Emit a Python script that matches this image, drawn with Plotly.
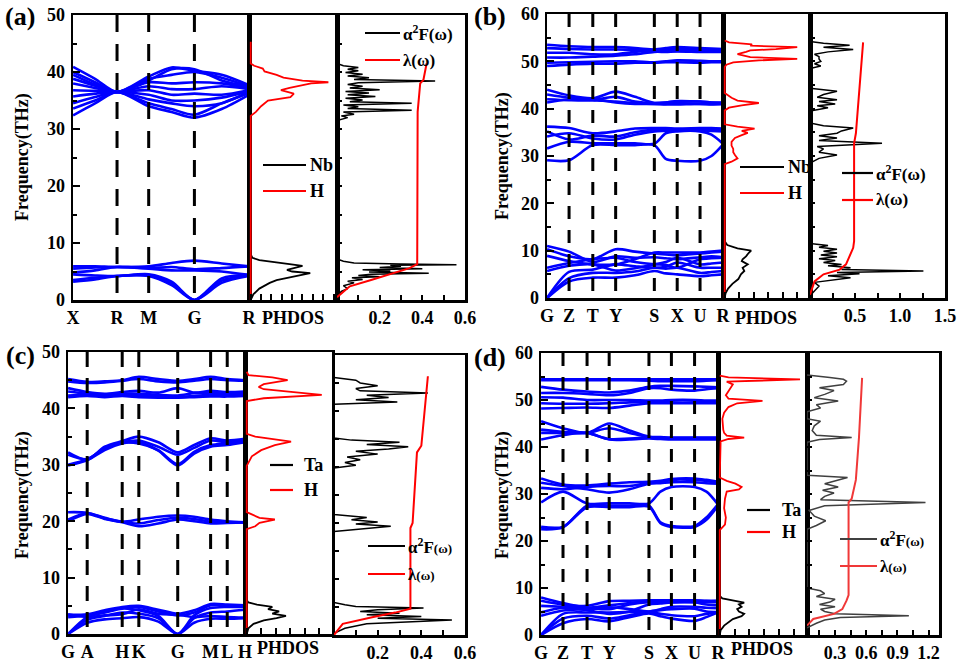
import plotly.graph_objects as go

# ---------------------------------------------------------------- data
# (a) NbH-type, path X-R-M-G-R
a_klab = ["X", "R", "M", "G", "R"]
a_kpos = [0.0, 0.25, 0.43, 0.69, 1.0]
a_kpath = [0.0, 0.125, 0.25, 0.43, 0.56, 0.69, 0.845, 1.0]
a_bands = [
    [3.2, 3.6, 4.2, 4.2, 2.6, 0.0, 3.0, 4.2],
    [3.5, 3.9, 4.2, 4.3, 2.9, 0.0, 3.4, 4.3],
    [4.5, 4.3, 4.2, 4.5, 3.2, 0.0, 3.8, 4.4],
    [4.8, 5.2, 5.8, 5.5, 5.2, 5.2, 5.0, 4.4],
    [5.5, 5.7, 5.8, 5.6, 5.8, 5.4, 5.6, 5.9],
    [5.9, 5.9, 5.8, 5.9, 6.5, 6.9, 6.4, 5.9],
    [32.4, 34.5, 36.5, 34.0, 33.0, 32.0, 33.5, 36.0],
    [33.6, 35.0, 36.5, 34.5, 33.5, 32.5, 34.5, 36.3],
    [34.5, 35.6, 36.5, 35.2, 34.5, 34.0, 34.5, 36.5],
    [35.7, 36.2, 36.5, 36.0, 35.0, 35.0, 35.5, 36.6],
    [36.8, 36.7, 36.5, 36.8, 36.0, 36.2, 36.0, 36.8],
    [38.0, 37.2, 36.5, 37.5, 37.0, 37.0, 37.5, 37.0],
    [38.8, 37.6, 36.5, 38.2, 38.0, 38.2, 38.0, 37.2],
    [40.0, 38.2, 36.5, 38.8, 39.5, 40.0, 39.0, 37.5],
    [40.9, 38.8, 36.5, 39.2, 40.8, 40.2, 39.5, 37.7],
    [39.5, 37.8, 36.5, 38.5, 40.5, 40.5, 38.5, 37.4],
]
a_dos_freq_m = [0, 1, 2, 3, 3.5, 4.0, 4.3, 4.7, 5.0, 5.3, 5.6, 6.0, 6.3, 6.6, 7.0, 7.4, 8.0, 45.3]
a_dos_m = [0, 0.03, 0.1, 0.22, 0.3, 0.45, 0.58, 0.69, 0.48, 0.42, 0.5, 0.6, 0.45, 0.28, 0.1, 0.02, 0, 0]
a_dos_freq_h = [0, 32.3, 33.0, 34.0, 35.0, 35.6, 36.2, 36.8, 37.2, 37.6, 38.0, 38.2, 38.5, 39.0,
                39.5, 40.1, 40.6, 41.1, 41.5, 45.3]
a_dos_h = [0, 0, 0.06, 0.12, 0.2, 0.46, 0.5, 0.35, 0.45, 0.58, 0.7, 0.9, 0.6, 0.38,
           0.3, 0.16, 0.14, 0.04, 0, 0]
a_a2f_freq = [0.5, 1.5, 2.0, 2.5, 3.0, 3.3, 3.6, 3.9, 4.1, 4.3, 4.5, 4.7, 4.9, 5.1, 5.3, 5.5, 5.7, 5.9,
              6.1, 6.2, 6.3, 6.5, 6.8, 7.2,
              31.5, 32.0, 32.3, 32.6, 33.0, 33.3, 33.6, 33.9, 34.2, 34.5, 34.8, 35.1, 35.4, 35.7, 36.0,
              36.3, 36.6, 36.9, 37.2, 37.5, 37.8, 38.1, 38.4, 38.7, 39.0, 39.3, 39.6, 39.9, 40.2, 40.5,
              40.8, 41.1, 41.5]
a_a2f = [0, 0.02, 0.05, 0.03, 0.08, 0.05, 0.12, 0.07, 0.2, 0.1, 0.16, 0.43, 0.15, 0.25, 0.12, 0.4, 0.2, 0.3,
         0.25, 0.56, 0.3, 0.08, 0.03, 0,
         0, 0.05, 0.02, 0.08, 0.03, 0.35, 0.05, 0.1, 0.03, 0.35, 0.06, 0.12, 0.04, 0.18, 0.05,
         0.15, 0.04, 0.2, 0.06, 0.12, 0.05, 0.1, 0.46, 0.08, 0.15, 0.05, 0.12, 0.04, 0.1, 0.05,
         0.1, 0.03, 0]
a_lam_freq = [0.5, 1.5, 2.4, 3.5, 4.2, 4.7, 5.2, 5.6, 6.0, 6.3, 33.0, 35.3, 38.0, 38.6, 41.0, 41.5]
a_lam = [0, 0.03, 0.06, 0.16, 0.22, 0.27, 0.31, 0.34, 0.36, 0.376, 0.378, 0.385, 0.39, 0.405, 0.415, 0.42]

# (b) path G-Z-T-Y-S-X-U-R
b_klab = ["G", "Z", "T", "Y", "S", "X", "U", "R"]
b_kpos = [0.0, 0.125, 0.26, 0.39, 0.61, 0.74, 0.87, 1.0]
b_kpath = [0.0, 0.125, 0.26, 0.39, 0.5, 0.61, 0.675, 0.74, 0.87, 0.935, 1.0]
b_bands = [
    [0, 3.5, 4.3, 4.3, 4.8, 5.7, 5.2, 5.0, 4.6, 4.8, 5.0],
    [0, 4.2, 5.3, 5.3, 5.6, 6.4, 6.2, 6.4, 5.3, 5.5, 5.7],
    [0, 5.5, 6.0, 7.1, 6.7, 6.4, 6.6, 7.5, 6.4, 6.4, 6.4],
    [5.7, 6.8, 7.1, 5.8, 6.3, 7.1, 7.6, 8.5, 7.1, 7.3, 7.5],
    [6.4, 7.4, 8.2, 8.5, 7.6, 7.1, 7.0, 6.4, 8.2, 8.4, 8.5],
    [8.9, 7.8, 7.1, 7.1, 8.2, 9.6, 9.6, 9.6, 9.6, 9.8, 10.0],
    [10.3, 8.8, 8.2, 10.3, 9.8, 9.4, 9.2, 9.0, 9.4, 9.6, 9.8],
    [11.0, 9.8, 7.6, 8.8, 8.5, 8.6, 8.4, 8.2, 8.6, 8.8, 8.6],
    [29.1, 29.1, 32.3, 32.3, 32.3, 32.3, 29.4, 29.0, 29.0, 30.0, 32.4],
    [31.6, 33.0, 32.7, 32.7, 32.7, 32.6, 34.8, 35.2, 35.2, 34.5, 32.6],
    [34.1, 34.8, 33.7, 33.5, 34.5, 35.2, 35.3, 35.4, 35.4, 35.3, 35.2],
    [35.2, 33.5, 34.3, 34.1, 35.0, 35.6, 35.6, 35.6, 35.7, 35.6, 35.5],
    [36.2, 35.9, 34.8, 35.2, 35.8, 35.9, 35.9, 35.8, 35.9, 35.9, 35.8],
    [44.0, 42.8, 42.2, 43.6, 42.5, 41.2, 41.3, 41.5, 41.5, 41.3, 41.3],
    [43.0, 42.3, 41.8, 41.5, 41.2, 41.0, 41.0, 41.2, 41.0, 41.0, 41.0],
    [42.0, 41.8, 41.8, 42.5, 41.5, 41.2, 41.3, 41.6, 41.5, 41.3, 41.2],
    [41.3, 42.0, 42.0, 41.3, 41.0, 41.0, 40.9, 40.9, 41.0, 40.9, 41.0],
    [53.5, 53.2, 53.0, 53.0, 52.8, 52.5, 52.5, 52.6, 52.5, 52.4, 52.5],
    [52.8, 52.6, 52.5, 52.5, 52.4, 52.2, 52.3, 52.2, 52.3, 52.2, 52.3],
    [51.8, 51.8, 51.5, 51.5, 52.0, 52.5, 52.8, 53.0, 52.8, 52.7, 52.6],
    [50.8, 50.8, 51.0, 51.2, 51.5, 52.0, 52.0, 52.1, 52.0, 52.0, 52.0],
    [49.7, 49.8, 49.9, 50.0, 50.0, 49.8, 50.0, 50.2, 50.1, 50.0, 50.0],
    [49.0, 49.3, 49.5, 49.5, 49.7, 49.7, 49.8, 49.8, 49.7, 49.8, 49.8],
]
b_dos_freq_m = [0, 1, 2, 3, 4, 5, 5.7, 6.4, 7.1, 7.8, 8.2, 8.8, 9.5, 10.0, 10.5, 11.2, 12, 54]
b_dos_m = [0, 0.01, 0.04, 0.09, 0.16, 0.19, 0.23, 0.21, 0.27, 0.2, 0.21, 0.25, 0.28, 0.31, 0.15, 0.03, 0, 0]
b_dos_freq_h = [0, 28.3, 28.8, 29.5, 30.2, 30.8, 31.5, 32.2, 33.0, 33.8, 34.4, 34.9, 35.3, 35.8, 36.2, 36.7,
                39.6, 40.2, 40.7, 41.2, 41.7, 42.3, 43.3, 48.8, 49.3, 49.8, 50.2, 50.5, 50.9, 51.5, 52.0,
                52.3, 52.6, 53.0, 53.3, 53.6, 54.0, 54.4]
b_dos_h = [0, 0, 0.08, 0.15, 0.12, 0.1, 0.1, 0.08, 0.08, 0.12, 0.2, 0.27, 0.2, 0.35, 0.15, 0,
           0, 0.05, 0.2, 0.4, 0.15, 0.08, 0, 0, 0.02, 0.1, 0.4, 0.85, 0.3, 0.15, 0.25,
           0.3, 0.6, 0.85, 0.3, 0.32, 0.05, 0]
b_a2f_freq = [0.5, 1.5, 2.5, 3.3, 3.8, 4.3, 4.7, 5.1, 5.4, 5.7, 6.0, 6.4, 6.8, 7.1, 7.5, 7.9, 8.3, 8.7,
              9.1, 9.5, 9.9, 10.3, 10.7, 11.1, 11.5,
              28.5, 29.5, 30.2, 30.8, 31.5, 32.0, 32.7, 33.3, 33.8, 34.3, 34.8, 35.3, 35.9, 36.4, 37.0,
              39.5, 40.2, 40.6, 41.0, 41.5, 41.9, 42.4, 43.0, 43.7, 44.3,
              48.5, 49.0, 49.5, 50.0, 50.5, 51.0, 51.5, 52.0, 52.5, 53.0, 53.4, 53.8, 54.2]
b_a2f = [0, 0.05, 0.1, 0.05, 0.25, 0.45, 0.2, 0.55, 0.3, 1.26, 0.35, 0.45, 0.2, 0.35, 0.15, 0.28, 0.1, 0.3,
         0.12, 0.3, 0.15, 0.3, 0.1, 0.2, 0,
         0, 0.1, 0.3, 0.1, 0.15, 0.08, 0.8, 0.1, 0.3, 0.1, 0.3, 0.35, 0.48, 0.15, 0,
         0, 0.2, 0.08, 0.28, 0.1, 0.3, 0.08, 0.15, 0.3, 0,
         0, 0.12, 0.05, 0.12, 0.1, 0.1, 0.05, 0.2, 0.48, 0.15, 0.44, 0.15, 0]
b_lam_freq = [0.7, 3.5, 5.0, 6.0, 7.1, 8.5, 9.2, 10.6, 12.0, 32.7, 34.8, 41.9, 54.0]
b_lam = [0, 0.05, 0.15, 0.33, 0.4, 0.43, 0.45, 0.48, 0.49, 0.49, 0.51, 0.54, 0.59]

# (c) path G-A-H-K-G-M-L-H
c_klab = ["G", "A", "H", "K", "G", "M", "L", "H"]
c_kpos = [0.0, 0.108, 0.306, 0.40, 0.62, 0.806, 0.90, 1.0]
c_kpath = [0.0, 0.108, 0.207, 0.306, 0.40, 0.51, 0.62, 0.713, 0.806, 0.90, 1.0]
c_bands = [
    [0, 2.0, 2.6, 2.8, 3.0, 2.2, 0, 2.0, 2.7, 2.7, 2.8],
    [0, 2.5, 3.2, 3.8, 3.6, 2.8, 0, 2.8, 3.8, 4.0, 4.3],
    [0, 3.0, 3.8, 4.5, 4.2, 3.2, 0, 3.3, 4.6, 4.8, 4.8],
    [3.0, 3.3, 3.9, 4.6, 4.8, 4.0, 3.3, 3.8, 5.1, 5.1, 5.0],
    [3.4, 3.5, 4.2, 4.8, 5.0, 4.3, 3.6, 4.2, 5.3, 5.2, 5.1],
    [3.5, 3.0, 3.3, 3.5, 4.4, 3.6, 3.4, 3.0, 3.2, 3.0, 2.9],
    [21.6, 21.5, 20.6, 19.9, 20.3, 20.8, 21.0, 20.8, 20.3, 20.0, 19.8],
    [20.0, 21.3, 20.4, 19.8, 19.1, 19.6, 20.3, 20.0, 19.6, 19.7, 19.8],
    [20.3, 21.4, 20.5, 19.9, 19.6, 20.2, 20.6, 20.4, 19.9, 19.8, 19.8],
    [32.2, 30.9, 33.2, 34.2, 35.0, 34.0, 32.2, 33.5, 34.7, 34.3, 34.6],
    [31.8, 31.0, 33.0, 34.0, 34.3, 33.2, 31.8, 33.0, 34.3, 34.0, 34.3],
    [29.9, 30.8, 32.6, 33.8, 34.0, 32.5, 29.9, 32.0, 33.2, 33.5, 34.0],
    [30.0, 31.0, 32.8, 33.9, 33.8, 32.6, 30.1, 32.3, 33.5, 33.8, 34.1],
    [45.2, 44.7, 44.8, 45.0, 45.6, 45.2, 44.9, 45.2, 45.6, 45.2, 45.0],
    [44.8, 44.5, 44.6, 44.9, 45.2, 44.8, 44.6, 44.9, 45.2, 45.0, 44.9],
    [43.6, 42.9, 42.6, 42.9, 43.1, 42.8, 43.6, 42.8, 43.1, 42.9, 43.0],
    [43.0, 42.6, 42.5, 42.6, 42.6, 42.4, 42.3, 42.7, 42.8, 42.6, 42.7],
    [42.3, 42.4, 42.2, 42.3, 42.2, 42.2, 42.0, 42.2, 42.4, 42.3, 42.4],
    [42.0, 42.2, 42.0, 42.2, 42.0, 41.9, 41.9, 42.0, 42.1, 42.1, 42.2],
]
c_dos_freq_m = [0, 1, 1.8, 2.4, 2.8, 3.2, 3.6, 4.0, 4.4, 4.8, 5.2, 5.6, 6.0, 46.5]
c_dos_m = [0, 0.02, 0.08, 0.2, 0.35, 0.46, 0.3, 0.38, 0.25, 0.3, 0.12, 0.02, 0, 0]
c_dos_freq_h = [0, 18.6, 19.1, 19.7, 20.3, 20.6, 21.2, 21.6, 29.8, 31.5, 32.6, 33.5, 34.1, 34.6, 35.0, 35.5,
                41.3, 41.8, 42.4, 42.9, 43.4, 43.8, 44.3, 45.0, 45.5, 45.9, 46.5]
c_dos_h = [0, 0, 0.1, 0.15, 0.33, 0.15, 0.06, 0, 0, 0.06, 0.17, 0.33, 0.52, 0.3, 0.1, 0,
           0, 0.2, 0.88, 0.55, 0.2, 0.14, 0.2, 0.48, 0.3, 0.02, 0]
c_a2f_freq = [0.3, 1.2, 2.0, 2.4, 2.7, 3.0, 3.3, 3.6, 3.9, 4.2, 4.5, 4.8, 5.1, 5.4, 5.8,
              18.5, 19.0, 19.4, 19.8, 20.2, 20.6, 21.0, 21.5,
              29.8, 30.3, 30.8, 31.3, 31.8, 32.3, 32.8, 33.2, 33.6, 34.0, 34.4, 34.8, 35.2,
              41.2, 41.6, 42.0, 42.4, 42.8, 43.2, 43.6, 44.0, 44.5, 45.0, 45.5, 46.0]
c_a2f = [0, 0.05, 0.15, 0.35, 0.54, 0.2, 0.4, 0.15, 0.3, 0.12, 0.2, 0.41, 0.1, 0.05, 0,
         0, 0.15, 0.26, 0.1, 0.2, 0.08, 0.15, 0,
         0, 0.1, 0.05, 0.12, 0.06, 0.2, 0.1, 0.25, 0.34, 0.15, 0.3, 0.08, 0,
         0, 0.29, 0.1, 0.25, 0.15, 0.43, 0.12, 0.1, 0.2, 0.12, 0.1, 0]
c_lam_freq = [0, 2.0, 3.2, 4.0, 4.7, 19.1, 20.0, 32.6, 33.8, 42.0, 46.2]
c_lam = [0, 0.04, 0.18, 0.28, 0.35, 0.35, 0.36, 0.38, 0.4, 0.42, 0.43]

# (d) path G-Z-T-Y-S-X-U-R
d_klab = ["G", "Z", "T", "Y", "S", "X", "U", "R"]
d_kpos = [0.0, 0.124, 0.26, 0.385, 0.61, 0.737, 0.868, 1.0]
d_kpath = [0.0, 0.124, 0.26, 0.385, 0.5, 0.61, 0.675, 0.737, 0.868, 0.935, 1.0]
d_bands = [
    [0, 2.5, 3.4, 2.9, 3.8, 4.6, 4.0, 3.5, 3.0, 3.8, 4.8],
    [0, 3.5, 4.1, 3.5, 4.2, 4.8, 4.5, 4.2, 4.0, 4.5, 4.8],
    [0, 4.5, 4.8, 4.8, 4.9, 5.0, 5.3, 5.5, 5.6, 5.0, 4.9],
    [4.1, 5.2, 5.5, 5.9, 5.5, 5.0, 5.5, 6.0, 6.0, 5.8, 5.7],
    [4.8, 5.8, 5.3, 4.5, 5.0, 6.5, 6.7, 6.9, 6.9, 6.5, 6.3],
    [6.2, 6.0, 5.8, 6.3, 6.8, 7.2, 7.2, 7.2, 7.3, 7.2, 7.2],
    [7.3, 6.5, 6.2, 7.2, 7.3, 7.4, 7.4, 7.4, 7.4, 7.3, 7.3],
    [8.0, 6.8, 5.8, 5.5, 6.5, 7.0, 7.0, 7.0, 7.1, 7.0, 7.0],
    [22.5, 22.9, 27.5, 27.5, 27.5, 27.5, 24.0, 23.2, 23.2, 25.0, 27.8],
    [23.0, 23.0, 27.2, 27.2, 27.2, 27.3, 23.8, 23.0, 23.0, 24.5, 27.5],
    [28.2, 30.5, 28.0, 28.0, 28.0, 28.0, 30.5, 31.5, 31.5, 30.5, 27.8],
    [31.3, 31.0, 31.5, 31.7, 31.7, 32.4, 32.5, 33.0, 33.0, 32.8, 32.4],
    [32.4, 31.7, 31.0, 30.3, 31.0, 32.2, 32.3, 32.5, 32.5, 32.3, 32.2],
    [33.3, 32.0, 31.8, 32.2, 32.5, 32.6, 32.8, 33.2, 33.3, 33.0, 32.6],
    [45.5, 44.0, 43.0, 45.0, 43.5, 42.2, 42.1, 42.0, 42.0, 42.0, 42.0],
    [43.7, 43.2, 43.0, 41.7, 41.8, 42.0, 41.9, 41.8, 41.8, 41.8, 41.8],
    [43.0, 43.0, 43.0, 44.0, 43.0, 42.1, 42.0, 41.9, 41.9, 41.9, 41.9],
    [41.6, 42.5, 43.0, 41.6, 41.6, 41.8, 41.7, 41.6, 41.6, 41.6, 41.6],
    [54.4, 54.4, 54.4, 54.4, 54.4, 54.4, 54.4, 54.4, 54.4, 54.4, 54.4],
    [54.2, 54.2, 54.2, 54.2, 54.2, 54.1, 54.0, 54.0, 54.0, 54.1, 54.2],
    [52.8, 52.2, 51.8, 51.6, 52.0, 52.8, 53.0, 53.0, 52.9, 52.8, 52.7],
    [51.5, 51.5, 51.3, 51.0, 51.5, 52.5, 52.5, 52.2, 52.0, 52.3, 52.5],
    [50.6, 50.5, 50.0, 50.0, 50.0, 49.9, 49.9, 50.0, 50.0, 49.9, 49.9],
    [49.3, 49.2, 49.2, 49.3, 49.5, 49.6, 49.6, 49.5, 49.5, 49.6, 49.6],
    [48.2, 48.3, 48.4, 48.3, 48.8, 49.3, 49.3, 49.3, 49.3, 49.3, 49.3],
]
d_dos_freq_m = [0, 1.0, 2.0, 2.8, 3.4, 4.0, 4.5, 5.0, 5.5, 6.0, 6.5, 6.9, 7.3, 7.8, 8.3, 55.2]
d_dos_m = [0, 0.01, 0.05, 0.1, 0.15, 0.25, 0.28, 0.22, 0.2, 0.25, 0.22, 0.28, 0.15, 0.03, 0, 0]
d_dos_freq_h = [0, 22.3, 23.5, 25.0, 27.0, 29.0, 30.5, 31.0, 31.5, 32.2, 32.8, 33.5, 41.2, 41.7, 42.0, 42.4,
                43.0, 43.7, 46.0, 47.3, 48.5, 49.3, 49.8, 50.3, 51.0, 51.8, 52.6, 53.3, 53.9, 54.4, 54.8, 55.2]
d_dos_h = [0, 0, 0.06, 0.07, 0.05, 0.06, 0.08, 0.22, 0.25, 0.18, 0.08, 0, 0.01, 0.1, 0.28, 0.08,
           0.05, 0.04, 0.03, 0.05, 0.1, 0.2, 0.49, 0.1, 0.07, 0.1, 0.12, 0.15, 0.08, 0.92, 0.1, 0]
d_a2f_freq = [1.5, 2.5, 3.2, 3.7, 4.1, 4.5, 5.0, 5.5, 6.0, 6.5, 7.0, 7.6, 8.2, 8.8, 9.4, 10.0,
              22.5, 23.3, 24.3, 25.3, 26.5, 27.5, 28.2, 28.8, 29.5, 30.2, 30.8, 31.5, 32.2, 32.8, 33.5, 34.0,
              41.0, 41.6, 42.0, 42.5, 43.5, 44.5, 45.5, 46.0,
              47.5, 48.3, 49.0, 49.8, 50.5, 51.2, 52.0, 52.6, 53.3, 54.0, 54.4, 54.8, 55.3]
d_a2f = [0.03, 0.12, 0.2, 0.35, 1.01, 0.3, 0.2, 0.16, 0.3, 0.15, 0.25, 0.3, 0.12, 0.2, 0.16, 0.03,
         0.03, 0.12, 0.21, 0.1, 0.05, 0.2, 1.17, 0.16, 0.2, 0.29, 0.18, 0.33, 0.2, 0.3, 0.42, 0.03,
         0.03, 0.15, 0.46, 0.12, 0.08, 0.1, 0.16, 0.03,
         0.03, 0.16, 0.12, 0.33, 0.1, 0.2, 0.29, 0.15, 0.38, 0.41, 0.38, 0.25, 0.03]
d_lam_freq = [2.0, 3.4, 4.5, 5.5, 7.3, 8.5, 28.2, 29.0, 33.0, 42.0, 54.7]
d_lam = [0.03, 0.09, 0.29, 0.37, 0.41, 0.43, 0.43, 0.46, 0.5, 0.53, 0.56]

# ---------------------------------------------------------------- styling / layout
W, H = 957, 662
FONT = "Liberation Serif"
BLUE = "#0000FF"
RED = "#FF0000"


def fx(x):
    return x / W


def fy(y):
    return 1 - y / H


panels = [
    dict(tag="(a)", metal="Nb", klab=a_klab, kpos=a_kpos, kpath=a_kpath, bands=a_bands, ymax=50,
         dfm=a_dos_freq_m, dm=a_dos_m, dfh=a_dos_freq_h, dh=a_dos_h,
         af=a_a2f_freq, av=a_a2f, lf=a_lam_freq, lv=a_lam,
         a2f_range=[0, 0.6], a2f_ticks=[0.1, 0.2, 0.3, 0.4, 0.5, 0.6],
         a2f_text=[" ", "0.2", " ", "0.4", " ", "0.6"], dos_dtick=0.12,
         band_x=(73, 249), dos_x=(249, 337), a2f_x=(337, 465), yb=(15, 300), ya=(15, 300),
         dash="17px,12px", a2f_col="#000000", lam_col=RED, small_omega=False,
         tag_xy=(20, 17), ytitle_xy=(23, 157), phdos_xy=(293, 318),
         leg_dos=(263, 306, 308, 165, 191), leg_a2f=(365, 400, 401, 33, 60)),
    dict(tag="(b)", metal="Nb", klab=b_klab, kpos=b_kpos, kpath=b_kpath, bands=b_bands, ymax=60,
         dfm=b_dos_freq_m, dm=b_dos_m, dfh=b_dos_freq_h, dh=b_dos_h,
         af=b_a2f_freq, av=b_a2f, lf=b_lam_freq, lv=b_lam,
         a2f_range=[0, 1.5], a2f_ticks=[0.25, 0.5, 0.75, 1.0, 1.25, 1.5],
         a2f_text=[" ", "0.5", " ", "1.0", " ", "1.5"], dos_dtick=0.17,
         band_x=(547, 723), dos_x=(723, 810), a2f_x=(810, 945), yb=(14, 298), ya=(14, 298),
         dash="13px,11px", a2f_col="#000000", lam_col=RED, small_omega=False,
         tag_xy=(490, 17), ytitle_xy=(502, 156), phdos_xy=(766, 318),
         leg_dos=(740, 784, 786, 167, 193), leg_a2f=(842, 873, 874, 173, 200)),
    dict(tag="(c)", metal="Ta", klab=c_klab, kpos=c_kpos, kpath=c_kpath, bands=c_bands, ymax=50,
         dfm=c_dos_freq_m, dm=c_dos_m, dfh=c_dos_freq_h, dh=c_dos_h,
         af=c_a2f_freq, av=c_a2f, lf=c_lam_freq, lv=c_lam,
         a2f_range=[0, 0.6], a2f_ticks=[0.1, 0.2, 0.3, 0.4, 0.5, 0.6],
         a2f_text=[" ", "0.2", " ", "0.4", " ", "0.6"], dos_dtick=0.17,
         band_x=(68, 245), dos_x=(245, 332), a2f_x=(334, 465), yb=(352, 634), ya=(355, 635),
         dash="15px,11px", a2f_col="#000000", lam_col=RED, small_omega=True,
         tag_xy=(20, 355), ytitle_xy=(22, 495), phdos_xy=(288, 648),
         leg_dos=(270, 293, 302, 465, 490), leg_a2f=(368, 405, 406, 546, 574)),
    dict(tag="(d)", metal="Ta", klab=d_klab, kpos=d_kpos, kpath=d_kpath, bands=d_bands, ymax=60,
         dfm=d_dos_freq_m, dm=d_dos_m, dfh=d_dos_freq_h, dh=d_dos_h,
         af=d_a2f_freq, av=d_a2f, lf=d_lam_freq, lv=d_lam,
         a2f_range=[0.03, 1.3], a2f_ticks=[0.15, 0.3, 0.45, 0.6, 0.75, 0.9, 1.05, 1.2],
         a2f_text=[" ", "0.3", " ", "0.6", " ", "0.9", " ", "1.2"], dos_dtick=0.17,
         band_x=(541, 718), dos_x=(718, 807), a2f_x=(807, 939), yb=(353, 635), ya=(353, 635),
         dash="13px,11px", a2f_col="#404040", lam_col="#F03838", small_omega=True,
         tag_xy=(490, 357), ytitle_xy=(502, 495), phdos_xy=(762, 649),
         leg_dos=(747, 770, 780, 510, 532), leg_a2f=(840, 877, 878, 539, 566)),
]

for P in panels:
    for f, v in [(P["dfm"], P["dm"]), (P["dfh"], P["dh"]), (P["af"], P["av"]), (P["lf"], P["lv"])]:
        assert len(f) == len(v), (P["tag"], len(f), len(v))
    for b in P["bands"]:
        assert len(b) == len(P["kpath"]), P["tag"]

fig = go.Figure()
layout = {}
shapes = []
annotations = []

AX = dict(showline=True, linecolor="black", linewidth=2.5, mirror=True, showgrid=False,
          zeroline=False, tickcolor="black", tickwidth=2, automargin=False, tickangle=0)
TICKFONT = dict(family=FONT, size=18, color="black", weight="bold")


def axname(n, kind):
    return kind if n == 1 else f"{kind}{n}"


def laykey(n, kind):
    return f"{kind}axis" if n == 1 else f"{kind}axis{n}"


def set_axes(n, xr, yr, xcfg, ycfg):
    layout[laykey(n, "x")] = dict(domain=[fx(xr[0]), fx(xr[1])], anchor=axname(n, "y"), **AX, **xcfg)
    layout[laykey(n, "y")] = dict(domain=[fy(yr[1]), fy(yr[0])], anchor=axname(n, "x"), **AX, **ycfg)


def text(x, y, s, size=17, xanchor="left", angle=0):
    annotations.append(dict(x=fx(x), y=fy(y), xref="paper", yref="paper", text=s, showarrow=False,
                            xanchor=xanchor, yanchor="middle", textangle=angle,
                            font=dict(family=FONT, size=size, color="black", weight="bold")))


def seg(x0, x1, y, color):
    shapes.append(dict(type="line", xref="paper", yref="paper", x0=fx(x0), x1=fx(x1), y0=fy(y), y1=fy(y),
                       line=dict(color=color, width=2.2)))


for p, P in enumerate(panels):
    nb, nd, na = p * 3 + 1, p * 3 + 2, p * 3 + 3
    ymax = P["ymax"]
    # band structure
    for band in P["bands"]:
        fig.add_trace(go.Scatter(x=P["kpath"], y=band, mode="lines", xaxis=axname(nb, "x"),
                                 yaxis=axname(nb, "y"), showlegend=False, hoverinfo="skip",
                                 line=dict(color=BLUE, width=2.6, shape="spline", smoothing=0.8)))
    for k in P["kpos"][1:-1]:
        fig.add_trace(go.Scatter(x=[k, k], y=[ymax, 0], mode="lines", xaxis=axname(nb, "x"),
                                 yaxis=axname(nb, "y"), showlegend=False, hoverinfo="skip",
                                 line=dict(color="black", width=3, dash=P["dash"])))
    set_axes(nb, P["band_x"], P["yb"],
             dict(range=[-0.0005, 1.0005], tickvals=P["kpos"], ticktext=P["klab"], ticks="",
                  tickfont=dict(TICKFONT, size=18), ticklabelstandoff=0),
             dict(range=[0, ymax], dtick=10, ticks="inside", ticklen=7, tickfont=TICKFONT,
                  ticklabelstandoff=2,
                  minor=dict(ticks="inside", ticklen=4, dtick=5, tickwidth=2, tickcolor="black")))
    # PHDOS
    fig.add_trace(go.Scatter(x=P["dm"], y=P["dfm"], mode="lines", xaxis=axname(nd, "x"),
                             yaxis=axname(nd, "y"), showlegend=False, hoverinfo="skip",
                             line=dict(color="black", width=1.8)))
    fig.add_trace(go.Scatter(x=P["dh"], y=P["dfh"], mode="lines", xaxis=axname(nd, "x"),
                             yaxis=axname(nd, "y"), showlegend=False, hoverinfo="skip",
                             line=dict(color=RED, width=1.8)))
    set_axes(nd, P["dos_x"], P["yb"],
             dict(range=[-0.02, 1.0], dtick=P["dos_dtick"], tick0=0, ticks="inside", ticklen=6,
                  showticklabels=False),
             dict(range=[0, ymax], ticks="", showticklabels=False))
    # a2F and lambda
    fig.add_trace(go.Scatter(x=P["av"], y=P["af"], mode="lines", xaxis=axname(na, "x"),
                             yaxis=axname(na, "y"), showlegend=False, hoverinfo="skip",
                             line=dict(color=P["a2f_col"], width=1.5)))
    fig.add_trace(go.Scatter(x=P["lv"], y=P["lf"], mode="lines", xaxis=axname(na, "x"),
                             yaxis=axname(na, "y"), showlegend=False, hoverinfo="skip",
                             line=dict(color=P["lam_col"], width=2)))
    set_axes(na, P["a2f_x"], P["ya"],
             dict(range=P["a2f_range"], tickvals=P["a2f_ticks"], ticktext=P["a2f_text"],
                  ticks="inside", ticklen=5, tickfont=TICKFONT, ticklabelstandoff=0),
             dict(range=[0, ymax], dtick=5, ticks="inside", ticklen=5, showticklabels=False))

    # texts
    text(P["tag_xy"][0], P["tag_xy"][1], P["tag"], size=26, xanchor="center")
    text(P["ytitle_xy"][0], P["ytitle_xy"][1], "Frequency(THz)", size=18, xanchor="center", angle=-90)
    text(P["phdos_xy"][0], P["phdos_xy"][1], "PHDOS", size=18, xanchor="center")
    lx0, lx1, tx, y1, y2 = P["leg_dos"]
    seg(lx0, lx1, y1, "black")
    seg(lx0, lx1, y2, RED)
    text(tx, y1, P["metal"], size=18)
    text(tx, y2, "H", size=18)
    lx0, lx1, tx, y1, y2 = P["leg_a2f"]
    seg(lx0, lx1, y1, P["a2f_col"])
    seg(lx0, lx1, y2, P["lam_col"])
    om = "<span style='font-size:13px'>(ω)</span>" if P["small_omega"] else "(ω)"
    text(tx, y1, "α<sup>2</sup>F" + om, size=17)
    text(tx, y2, "λ" + om, size=17)

fig.update_layout(**layout)
fig.update_layout(width=W, height=H, margin=dict(l=0, r=0, t=0, b=0, autoexpand=False),
                  paper_bgcolor="white", plot_bgcolor="white", showlegend=False,
                  shapes=shapes, annotations=annotations,
                  font=dict(family=FONT, color="black"))
fig.write_html("out.html", config={"displayModeBar": False, "staticPlot": True},
               post_script="document.body.style.margin='0px';document.body.style.overflow='hidden';")
